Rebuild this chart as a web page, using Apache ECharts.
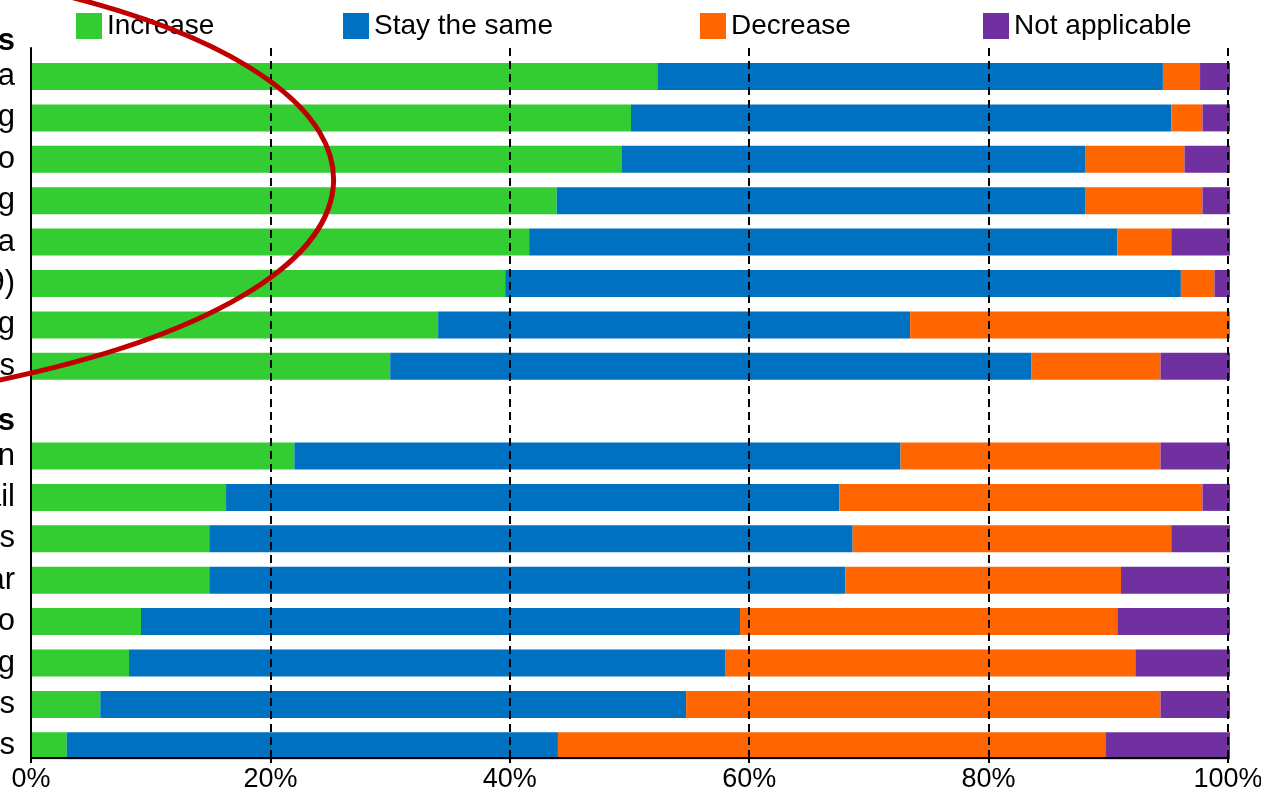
<!DOCTYPE html>
<html>
<head>
<meta charset="utf-8">
<script src="https://cdn.jsdelivr.net/npm/echarts@6/dist/echarts.min.js"></script>
<style>
  html, body { margin: 0; padding: 0; background: #fff; }
  #chart { width: 1261px; height: 798px; }
</style>
</head>
<body>
<div id="chart"></div>
<script>
// categories
const headerTop = 'Online activities'
const headerBottom = 'Offline activities'
const labelsTop = ['Social media', 'Online shopping', 'Streaming video', 'Online banking',
  'Online news media', 'Video calls (COVID-19)', 'Online gaming', 'Online courses']
const labelsBottom = ['Public transportation', 'In-store retail', 'Restaurants', 'Travel by car',
  'Travel by metro', 'Sightseeing', 'Sports events', 'Fitness classes']

// series values (%), top group first then bottom group
const increase = [52.2, 50.0, 49.2, 43.8, 41.5, 39.5, 33.9, 29.9, 21.9, 16.2, 14.8, 14.8, 9.1, 8.1, 5.7, 2.9]
const stay = [42.2, 45.1, 38.7, 44.1, 49.1, 56.4, 39.4, 53.5, 50.6, 51.2, 53.7, 53.1, 50.0, 49.8, 48.9, 41.0]
const decrease = [3.1, 2.6, 8.3, 9.8, 4.5, 2.8, 26.7, 10.8, 21.7, 30.3, 26.6, 23.0, 31.5, 34.2, 39.6, 45.7]
const notApplicable = [2.5, 2.3, 3.8, 2.3, 4.9, 1.3, 0, 5.8, 5.8, 2.3, 4.9, 9.1, 9.4, 7.9, 5.8, 10.4]

// axis ticks
const tickValues = [0, 20, 40, 60, 80, 100]

const seriesDefs = [
  { name: 'Increase', values: increase, color: '#33CC33' },
  { name: 'Stay the same', values: stay, color: '#0070C0' },
  { name: 'Decrease', values: decrease, color: '#FF6600' },
  { name: 'Not applicable', values: notApplicable, color: '#7030A0' }
]

const font = 'Liberation Sans, Arial, sans-serif'
const chart = echarts.init(document.getElementById('chart'))

const catAxis = (gridIndex, header, labels) => ({
  type: 'category', gridIndex, inverse: true,
  data: [header, ...labels],
  axisLine: { show: false }, axisTick: { show: false },
  axisLabel: {
    color: '#000', fontSize: 31, fontFamily: font, margin: 17,
    formatter: (v) => v === header ? '{h|' + v + '}' : v,
    rich: { h: { fontSize: 31, fontFamily: font, fontWeight: 'bold', color: '#000', padding: [13, 0, 0, 0] } }
  }
})

const hiddenValueAxis = (gridIndex) => ({
  type: 'value', gridIndex, min: 0, max: 100, show: false
})

const series = []
seriesDefs.forEach(d => {
  const top = ['-', ...d.values.slice(0, 8)]
  const bottom = ['-', ...d.values.slice(8)]
  series.push({ name: d.name, type: 'bar', stack: 'top', xAxisIndex: 0, yAxisIndex: 0,
    barWidth: 27, itemStyle: { color: d.color }, data: top })
  series.push({ name: d.name, type: 'bar', stack: 'bottom', xAxisIndex: 1, yAxisIndex: 1,
    barWidth: 27, itemStyle: { color: d.color }, data: bottom })
})

const legendLeft = [76, 343, 700, 983]
const legends = seriesDefs.map((d, i) => ({
  data: [d.name], left: legendLeft[i], top: 12, padding: 0,
  icon: 'rect', itemWidth: 26, itemHeight: 26,
  textStyle: { color: '#000', fontSize: 28, fontFamily: font }
}))

const option = {
  animation: false,
  backgroundColor: '#fff',
  legend: legends,
  grid: [
    { left: 32, right: 31, top: 14.4, height: 372.6, outerBoundsMode: 'none', containLabel: false },
    { left: 32, right: 31, top: 393.9, height: 372.6, outerBoundsMode: 'none', containLabel: false },
    { left: 31, right: 33, top: 48, bottom: 40, outerBoundsMode: 'none', containLabel: false }
  ],
  xAxis: [
    hiddenValueAxis(0),
    hiddenValueAxis(1),
    {
      type: 'value', gridIndex: 2, min: tickValues[0], max: tickValues[tickValues.length - 1],
      interval: 20, z: 10,
      axisLine: { show: true, lineStyle: { color: '#000', width: 2 } },
      axisTick: { show: true, length: 5, lineStyle: { color: '#000', width: 2 } },
      axisLabel: { color: '#000', fontSize: 27, fontFamily: font, margin: 8, formatter: '{value}%' },
      splitLine: { show: true, lineStyle: { color: '#000', width: 2, type: [8, 5] } }
    }
  ],
  yAxis: [
    catAxis(0, headerTop, labelsTop),
    catAxis(1, headerBottom, labelsBottom),
    {
      type: 'value', gridIndex: 2, min: 0, max: 1, z: 10,
      axisLine: { show: true, lineStyle: { color: '#000', width: 2 } },
      axisTick: { show: false }, axisLabel: { show: false }, splitLine: { show: false }
    }
  ],
  series,
  graphic: [{
    type: 'bezierCurve', z: 100, silent: true,
    shape: { x1: 50, y1: -8, cpx1: 440, cpy1: 85, cpx2: 435, cpy2: 292, x2: -10, y2: 382 },
    style: { stroke: '#C00000', lineWidth: 5, fill: null }
  }]
}

chart.setOption(option)
window.addEventListener('resize', () => chart.resize())
</script>
</body>
</html>
